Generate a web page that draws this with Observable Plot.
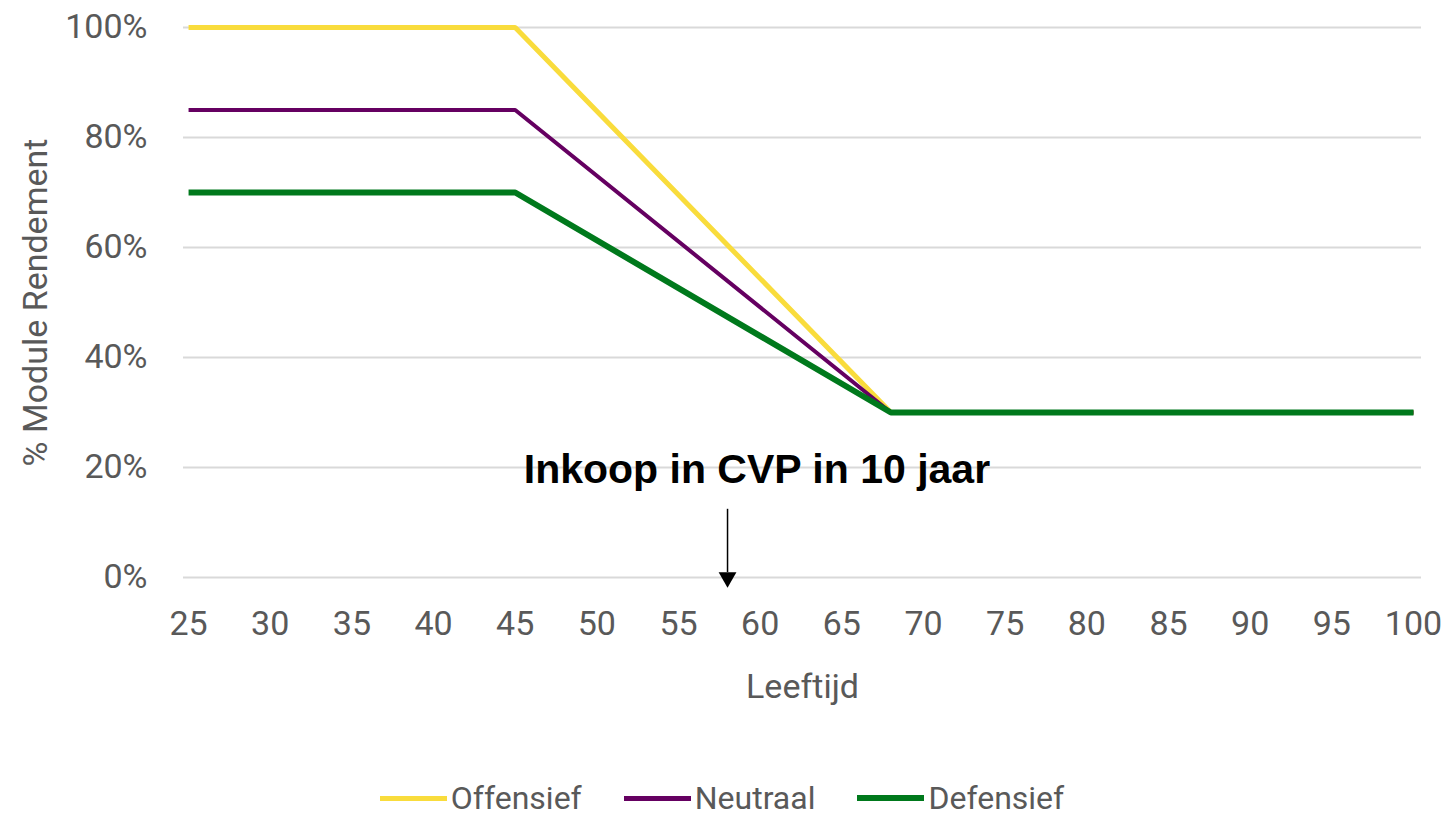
<!DOCTYPE html>
<html>
<head>
<meta charset="utf-8">
<script src="https://cdn.jsdelivr.net/npm/d3@7"></script>
<script src="https://cdn.jsdelivr.net/npm/@observablehq/plot@0.6"></script>
<style>
  html, body { margin: 0; padding: 0; background: #fff; }
  #wrap { position: relative; width: 1444px; height: 820px; overflow: hidden; }
  #legend { position: absolute; left: 0; width: 1444px; top: 780px; height: 36px; line-height: 36px; display: flex; justify-content: center; align-items: center; gap: 42px; font-family: Roboto, sans-serif; font-size: 32px; color: #595959; }
  .item { display: flex; align-items: center; gap: 4px; }
  .sw { display: inline-block; width: 67px; }
</style>
</head>
<body>
<div id="wrap"></div>
<script>
// ---- data ----
const ages = [25, 45, 68, 100];
const offensief = [1.00, 1.00, 0.30, 0.30];
const neutraal  = [0.85, 0.85, 0.30, 0.30];
const defensief = [0.70, 0.70, 0.30, 0.30];
const seriesNames = ["Offensief", "Neutraal", "Defensief"];
const xTicks = [25, 30, 35, 40, 45, 50, 55, 60, 65, 70, 75, 80, 85, 90, 95, 100];
const yTicks = [0, 0.2, 0.4, 0.6, 0.8, 1.0];
const annotationText = "Inkoop in CVP in 10 jaar";
const annotationAge = 59.8;
const annotationValue = 0.195;
const arrowAge = 58;
const arrowTop = 0.124;
const arrowBottom = 0.009;
const arrowTip = 0.0;

// ---- styles ----
const colors = {Offensief: "#F9DC3C", Neutraal: "#650061", Defensief: "#00791C"};
const widths = {Offensief: 5, Neutraal: 4, Defensief: 6};

const valuesByName = {Offensief: offensief, Neutraal: neutraal, Defensief: defensief};
const rows = seriesNames.flatMap(name => ages.map((a, i) => ({name, age: a, value: valuesByName[name][i]})));

const lineMarks = seriesNames.map(name =>
  Plot.line(rows.filter(d => d.name === name), {
    x: "age", y: "value", stroke: colors[name], strokeWidth: widths[name], strokeLinejoin: "miter", strokeLinecap: "butt"
  })
);

const chart = Plot.plot({
  width: 1444,
  height: 770,
  marginLeft: 183,
  marginRight: 23,
  marginTop: 27,
  marginBottom: 193,
  style: {fontFamily: "Roboto, sans-serif", fontSize: "34px", color: "#595959", background: "#fff"},
  x: {domain: [24.69, 100.49]},
  y: {domain: [0, 1]},
  marks: [
    Plot.ruleY(yTicks, {stroke: "#d9d9d9", strokeWidth: 2}),
    Plot.axisY({ticks: yTicks, tickFormat: d3.format(".0%"), tickSize: 0, tickPadding: 36, fill: "#595959",
      label: "% Module Rendement", labelAnchor: "center", labelArrow: "none", labelOffset: 161}),
    Plot.axisX({ticks: xTicks, tickFormat: d => String(d), tickSize: 0, tickPadding: 33, fill: "#595959",
      label: "Leeftijd", labelAnchor: "center", labelArrow: "none", labelOffset: 120}),
    ...lineMarks,
    Plot.text([annotationText], {x: () => annotationAge, y: () => annotationValue, text: d => d,
      fontFamily: "Liberation Sans, Arial, sans-serif", fontWeight: "bold", fontSize: 41, fill: "#000",
      textAnchor: "middle", lineAnchor: "middle"}),
    Plot.ruleX([arrowAge], {x: d => d, y1: arrowTop, y2: arrowBottom, stroke: "#000", strokeWidth: 1.5}),
    Plot.dot([arrowAge], {x: d => d, y: () => arrowTip, symbol: "triangle", r: 6.6, fill: "#000", stroke: "none", rotate: 180})
  ]
});

const wrap = document.getElementById("wrap");
wrap.appendChild(chart);

const legend = document.createElement("div");
legend.id = "legend";
for (const name of seriesNames) {
  const item = document.createElement("div");
  item.className = "item";
  const sw = document.createElement("span");
  sw.className = "sw";
  sw.style.height = (name === "Defensief" ? 6 : 5) + "px";
  sw.style.background = colors[name];
  const t = document.createElement("span");
  t.textContent = name;
  item.appendChild(sw);
  item.appendChild(t);
  legend.appendChild(item);
}
wrap.appendChild(legend);
</script>
</body>
</html>
